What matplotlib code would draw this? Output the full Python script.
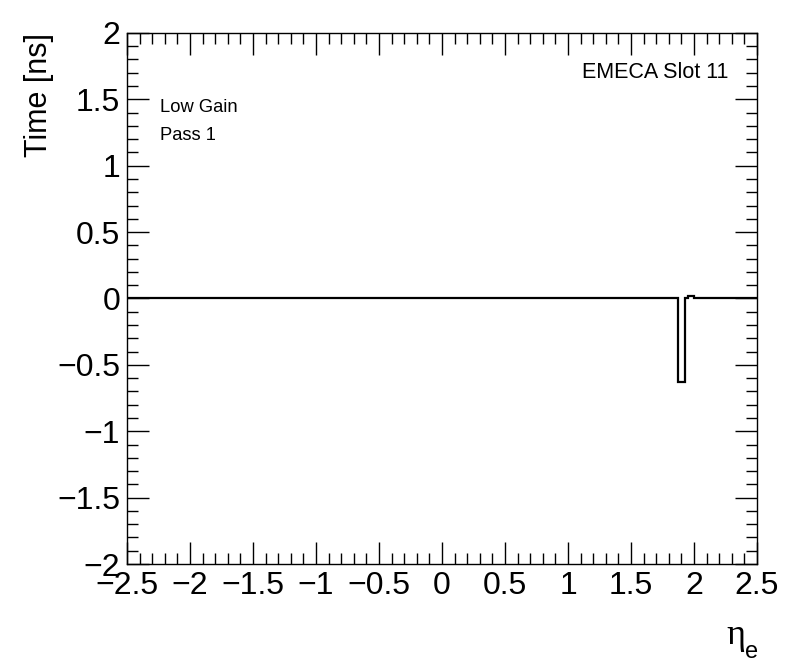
import numpy as np
import matplotlib.pyplot as plt
from matplotlib.ticker import MultipleLocator

plt.rcParams["font.family"] = ["Liberation Sans", "DejaVu Sans"]

# bin edges (eta) and per-bin mean time [ns]
edges = np.round(np.arange(-2.5, 2.5001, 0.025), 3)
values = np.zeros(len(edges) - 1)
dip_bins = {1.875: -0.63, 1.9: -0.63, 1.925: 0.005, 1.95: 0.02, 1.975: 0.02}
for lo, v in dip_bins.items():
    values[int(round((lo + 2.5) / 0.025))] = v

fig = plt.figure(figsize=(7.96, 6.72), dpi=100)
ax = fig.add_axes([0.1596, 0.1607, 0.7914, 0.7903])

ax.stairs(values, edges, color="black", linewidth=1.6, baseline=None)

ax.set_xlim(-2.5, 2.5)
ax.set_ylim(-2, 2)
ax.xaxis.set_major_locator(MultipleLocator(0.5))
ax.xaxis.set_minor_locator(MultipleLocator(0.1))
ax.yaxis.set_major_locator(MultipleLocator(0.5))
ax.yaxis.set_minor_locator(MultipleLocator(0.1))
ax.tick_params(which="both", direction="in", top=True, right=True, width=1)
ax.tick_params(which="major", length=16, labelsize=23, pad=5)
ax.tick_params(which="minor", length=8)
fmt = plt.FuncFormatter(lambda v, p: f"{v:g}".replace("-", "\u2212"))
ax.xaxis.set_major_formatter(fmt)
ax.yaxis.set_major_formatter(fmt)
for s in ax.spines.values():
    s.set_linewidth(1)

fig.text(0.049, 0.951, "Time [ns]", rotation=90, ha="center", va="top", fontsize=22)
fig.text(0.913, 0.030, "\u03b7", ha="left", va="bottom", fontsize=26, family="Liberation Serif")
fig.text(0.936, 0.014, "e", ha="left", va="bottom", fontsize=17)

ax.text(0.955, 0.925, "EMECA Slot 11", transform=ax.transAxes, ha="right", va="center", fontsize=15.5)
ax.text(0.052, 0.86, "Low Gain", transform=ax.transAxes, ha="left", va="center", fontsize=13.2)
ax.text(0.052, 0.807, "Pass 1", transform=ax.transAxes, ha="left", va="center", fontsize=13.2)

fig.savefig("out.png", dpi=100)
